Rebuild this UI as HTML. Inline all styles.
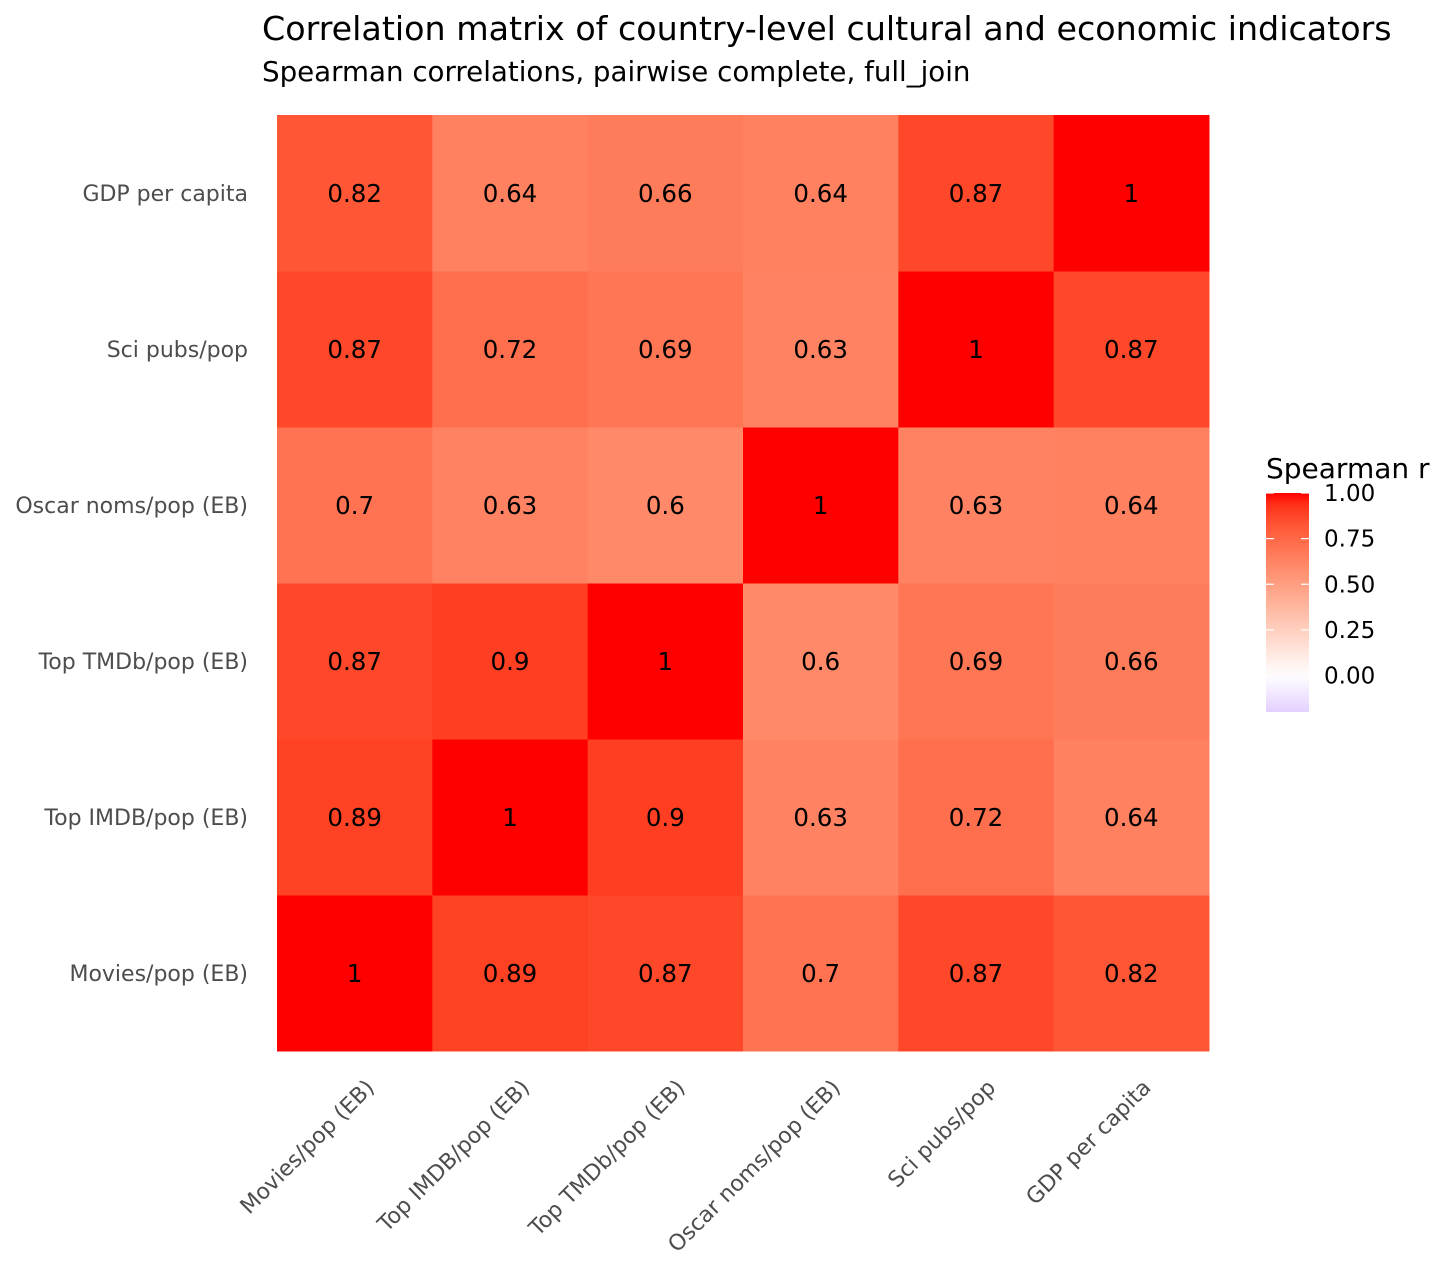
<!DOCTYPE html>
<html><head><meta charset="utf-8"><style>
html,body{margin:0;padding:0;background:#fff;}
svg text{font-family:"DejaVu Sans","Liberation Sans",sans-serif;}
</style></head><body>
<svg id="chart" width="1456" height="1274" viewBox="0 0 1456 1274" xmlns="http://www.w3.org/2000/svg">
<text x="262" y="40" font-size="33.3" fill="#000">Correlation matrix of country-level cultural and economic indicators</text>
<text x="262" y="81" font-size="27.7" fill="#000">Spearman correlations, pairwise complete, full_join</text>
<g id="cells"></g>
<g id="xlabels"></g>
<g id="ylabels"></g>
<g id="legend">
<text x="1266" y="478" font-size="28" fill="#000">Spearman r</text>
<defs><linearGradient id="lg" x1="0" y1="1" x2="0" y2="0"></linearGradient></defs>
<rect id="lgbar" x="1266" y="493" width="43" height="219" fill="url(#lg)"/>
<g id="lgticks"></g>
</g>
</svg>
<script>
const variables = ["Movies/pop (EB)","Top IMDB/pop (EB)","Top TMDb/pop (EB)","Oscar noms/pop (EB)","Sci pubs/pop","GDP per capita"];
const rowMovies = [1,0.89,0.87,0.7,0.87,0.82];
const rowIMDB = [0.89,1,0.9,0.63,0.72,0.64];
const rowTMDb = [0.87,0.9,1,0.6,0.69,0.66];
const rowOscar = [0.7,0.63,0.6,1,0.63,0.64];
const rowSci = [0.87,0.72,0.69,0.63,1,0.87];
const rowGDP = [0.82,0.64,0.66,0.64,0.87,1];
const matrix = [rowMovies,rowIMDB,rowTMDb,rowOscar,rowSci,rowGDP];
const legendTicks = [0,0.25,0.5,0.75,1];
const legendMin = -0.2, legendMax = 1;

const NS="http://www.w3.org/2000/svg";
const px0=277, px1=1209, py0=115, py1=1051;
const n=variables.length;
const cw=(px1-px0)/n, ch=(py1-py0)/n;
const xPos=i=>px0+i*cw;
const yPos=j=>py1-(j+1)*ch;

function toLab(r,g,b){
  const f=c=>{c/=255;return c<=0.04045?c/12.92:Math.pow((c+0.055)/1.055,2.4);};
  const R=f(r),G=f(g),B=f(b);
  let X=(R*0.4124+G*0.3576+B*0.1805)/0.95047,Y=(R*0.2126+G*0.7152+B*0.0722),Z=(R*0.0193+G*0.1192+B*0.9505)/1.08883;
  const h=t=>t>0.008856?Math.cbrt(t):7.787*t+16/116;
  X=h(X);Y=h(Y);Z=h(Z);
  return [116*Y-16,500*(X-Y),200*(Y-Z)];
}
function fromLab(L,a,bb){
  let Y=(L+16)/116,X=a/500+Y,Z=Y-bb/200;
  const h=t=>t*t*t>0.008856?t*t*t:(t-16/116)/7.787;
  X=h(X)*0.95047;Y=h(Y);Z=h(Z)*1.08883;
  let R=X*3.2406+Y*-1.5372+Z*-0.4986,G=X*-0.9689+Y*1.8758+Z*0.0415,B=X*0.0557+Y*-0.2040+Z*1.0570;
  const g=c=>{c=c<=0.0031308?12.92*c:1.055*Math.pow(c,1/2.4)-0.055;return Math.max(0,Math.min(255,Math.round(c*255)));};
  return `rgb(${g(R)},${g(G)},${g(B)})`;
}
const W=toLab(255,255,255),RD=toLab(255,0,0),BL=toLab(0,0,255);
function colorOf(v){
  const t=Math.min(1,Math.abs(v));const tgt=v>=0?RD:BL;
  return fromLab(W[0]+(tgt[0]-W[0])*t,W[1]+(tgt[1]-W[1])*t,W[2]+(tgt[2]-W[2])*t);
}
const fmt=v=>String(Math.round(v*100)/100);

const cells=document.getElementById('cells');
for(let j=0;j<n;j++){for(let i=0;i<n;i++){
  const v=matrix[j][i];
  const r=document.createElementNS(NS,'rect');
  r.setAttribute('x',xPos(i));r.setAttribute('y',yPos(j));
  r.setAttribute('width',cw+0.5);r.setAttribute('height',ch+0.5);
  r.setAttribute('fill',colorOf(v));
  
  
  cells.appendChild(r);
  const t=document.createElementNS(NS,'text');
  t.setAttribute('x',xPos(i)+cw/2);t.setAttribute('y',yPos(j)+ch/2+9);
  t.setAttribute('text-anchor','middle');t.setAttribute('font-size','24.5');t.setAttribute('fill','#000');
  t.textContent=fmt(v);
  
  
  cells.appendChild(t);
}}
const xl=document.getElementById('xlabels'),yl=document.getElementById('ylabels');
variables.forEach((name,i)=>{
  const cx=xPos(i)+cw/2, ax=cx+10, ay=1078;
  const t=document.createElementNS(NS,'text');
  t.setAttribute('x',ax);t.setAttribute('y',ay);
  t.setAttribute('text-anchor','end');t.setAttribute('font-size','22');t.setAttribute('fill','#4d4d4d');
  t.setAttribute('transform',`rotate(-45 ${ax} ${ay})`);
  t.setAttribute('dy','0.7em');
  t.textContent=name;
  
  
  xl.appendChild(t);
  const y=document.createElementNS(NS,'text');
  y.setAttribute('x',248);y.setAttribute('y',yPos(i)+ch/2+8);
  y.setAttribute('text-anchor','end');y.setAttribute('font-size','22');y.setAttribute('fill','#4d4d4d');
  y.textContent=name;
  
  
  yl.appendChild(y);
});
const lg=document.getElementById('lg');
for(let k=0;k<=20;k++){
  const v=legendMin+(legendMax-legendMin)*k/20;
  const s=document.createElementNS(NS,'stop');
  s.setAttribute('offset',(k/20).toFixed(3));s.setAttribute('stop-color',colorOf(v));
  lg.appendChild(s);
}
const lbTop=493,lbBot=712;
const ly=v=>lbBot-(v-legendMin)/(legendMax-legendMin)*(lbBot-lbTop);
const lt=document.getElementById('lgticks');
legendTicks.forEach(v=>{
  const y=ly(v);
  [[1266,1274],[1301,1309]].forEach(([a,b])=>{
    const l=document.createElementNS(NS,'line');
    l.setAttribute('x1',a);l.setAttribute('x2',b);l.setAttribute('y1',y);l.setAttribute('y2',y);
    l.setAttribute('stroke','#fff');l.setAttribute('stroke-width','1.2');
    
    
    lt.appendChild(l);
  });
  const t=document.createElementNS(NS,'text');
  t.setAttribute('x',1324);t.setAttribute('y',y+8);t.setAttribute('font-size','23');t.setAttribute('fill','#000');
  t.textContent=v.toFixed(2);
  
  
  lt.appendChild(t);
});
</script>
</body></html>
